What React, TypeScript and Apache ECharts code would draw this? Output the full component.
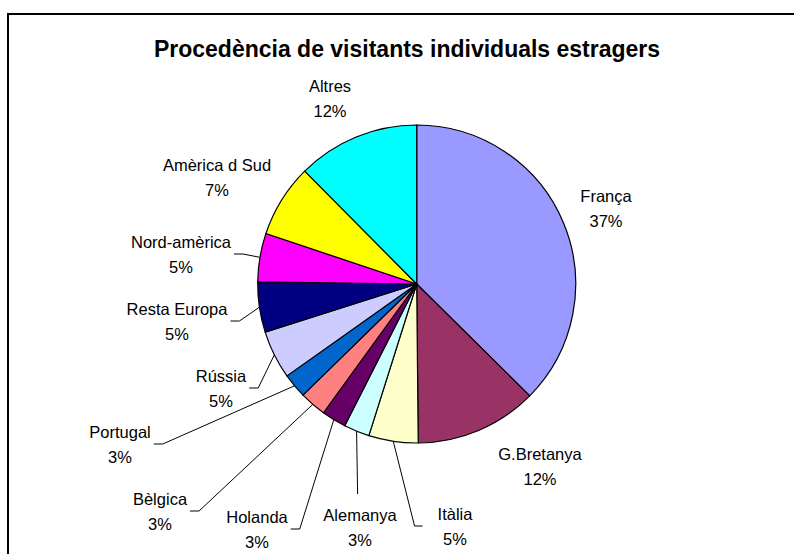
import React, { useEffect, useRef } from "react";
import * as echarts from "echarts";

const TITLE = "Procedència de visitants individuals estragers";

const categories = [
  "França",
  "G.Bretanya",
  "Itàlia",
  "Alemanya",
  "Holanda",
  "Bèlgica",
  "Portugal",
  "Rússia",
  "Resta Europa",
  "Nord-amèrica",
  "Amèrica d Sud",
  "Altres",
];

const values = [37.3, 12.4, 5.0, 2.6, 2.5, 2.7, 2.5, 4.9, 5.1, 4.9, 7.4, 12.4];

const colors = [
  "#9999FF",
  "#993366",
  "#FFFFCC",
  "#CCFFFF",
  "#660066",
  "#FF8080",
  "#0066CC",
  "#CCCCFF",
  "#000080",
  "#FF00FF",
  "#FFFF00",
  "#00FFFF",
];

// label placement (offset of the label centre from the pie centre) and leader-line side
const labelOffsets: [number, number][] = [
  [189.3, -76],
  [123.3, 182],
  [38.3, 242],
  [-56.7, 243],
  [-159.7, 245],
  [-256.7, 227],
  [-296.7, 160],
  [-195.7, 104],
  [-239.7, 37],
  [-235.7, -30],
  [-199.7, -106.5],
  [-86.7, -186],
];
const lineSides = [
  "none",
  "none",
  "left",
  "top",
  "right",
  "right",
  "right",
  "right",
  "right",
  "right",
  "none",
  "none",
];

const CENTER: [number, number] = [416.7, 284];
const RADIUS = 159;
const FONT = "'Liberation Sans', Arial, Helvetica, sans-serif";

export default function App() {
  const ref = useRef<HTMLDivElement>(null);

  useEffect(() => {
    document.body.style.margin = "0";
    if (!ref.current) return;
    const chart = echarts.init(ref.current, undefined, { renderer: "svg" });

    const data = categories.map((name, i) => ({
      name,
      value: values[i],
      itemStyle: { color: colors[i] },
      labelLine: { show: lineSides[i] !== "none" },
    }));

    chart.setOption({
      animation: false,
      backgroundColor: "#ffffff",
      title: {
        text: TITLE,
        left: 407,
        top: 49,
        padding: 0,
        textAlign: "center",
        textVerticalAlign: "middle",
        textStyle: {
          fontFamily: FONT,
          fontWeight: "bold",
          fontSize: 23,
          color: "#000",
        },
      },
      graphic: [
        {
          type: "rect",
          silent: true,
          z: -1,
          shape: { x: 8, y: 14, width: 820, height: 600 },
          style: { fill: "none", stroke: "#000", lineWidth: 2 },
        },
      ],
      series: [
        {
          type: "pie",
          center: CENTER,
          radius: RADIUS,
          startAngle: 90,
          clockwise: true,
          avoidLabelOverlap: false,
          data,
          itemStyle: { borderColor: "#000", borderWidth: 1.2 },
          emphasis: { disabled: true },
          label: {
            show: true,
            position: "outside",
            formatter: (p: any) => `${p.name}\n${Math.round(p.percent)}%`,
            fontFamily: FONT,
            fontSize: 16.5,
            lineHeight: 25,
            color: "#000",
          },
          labelLine: {
            show: true,
            length: 10,
            length2: 10,
            lineStyle: { color: "#000", width: 1 },
          },
          labelLayout: (params: any) => {
            const i = params.dataIndex;
            const [ox, oy] = labelOffsets[i];
            const x = CENTER[0] + ox;
            const y = CENTER[1] + oy;
            const w = params.labelRect.width;
            const h = params.labelRect.height;
            const res: any = { x, y, align: "center", verticalAlign: "middle" };
            const side = lineSides[i];
            if (side !== "none" && params.labelLinePoints) {
              const edge = params.labelLinePoints[0];
              let end: number[];
              let bend: number[];
              if (side === "right") {
                end = [x + w / 2 + 3, y];
                bend = [end[0] + 9, y];
              } else if (side === "left") {
                end = [x - w / 2 - 15, y];
                bend = [end[0] - 8, y];
              } else {
                end = [edge[0] + 1, y - h / 2 - 8];
                bend = end;
              }
              res.labelLinePoints = [edge, bend, end];
            }
            return res;
          },
        },
      ],
    });

    return () => chart.dispose();
  }, []);

  return <div ref={ref} style={{ width: 794, height: 554 }} />;
}
